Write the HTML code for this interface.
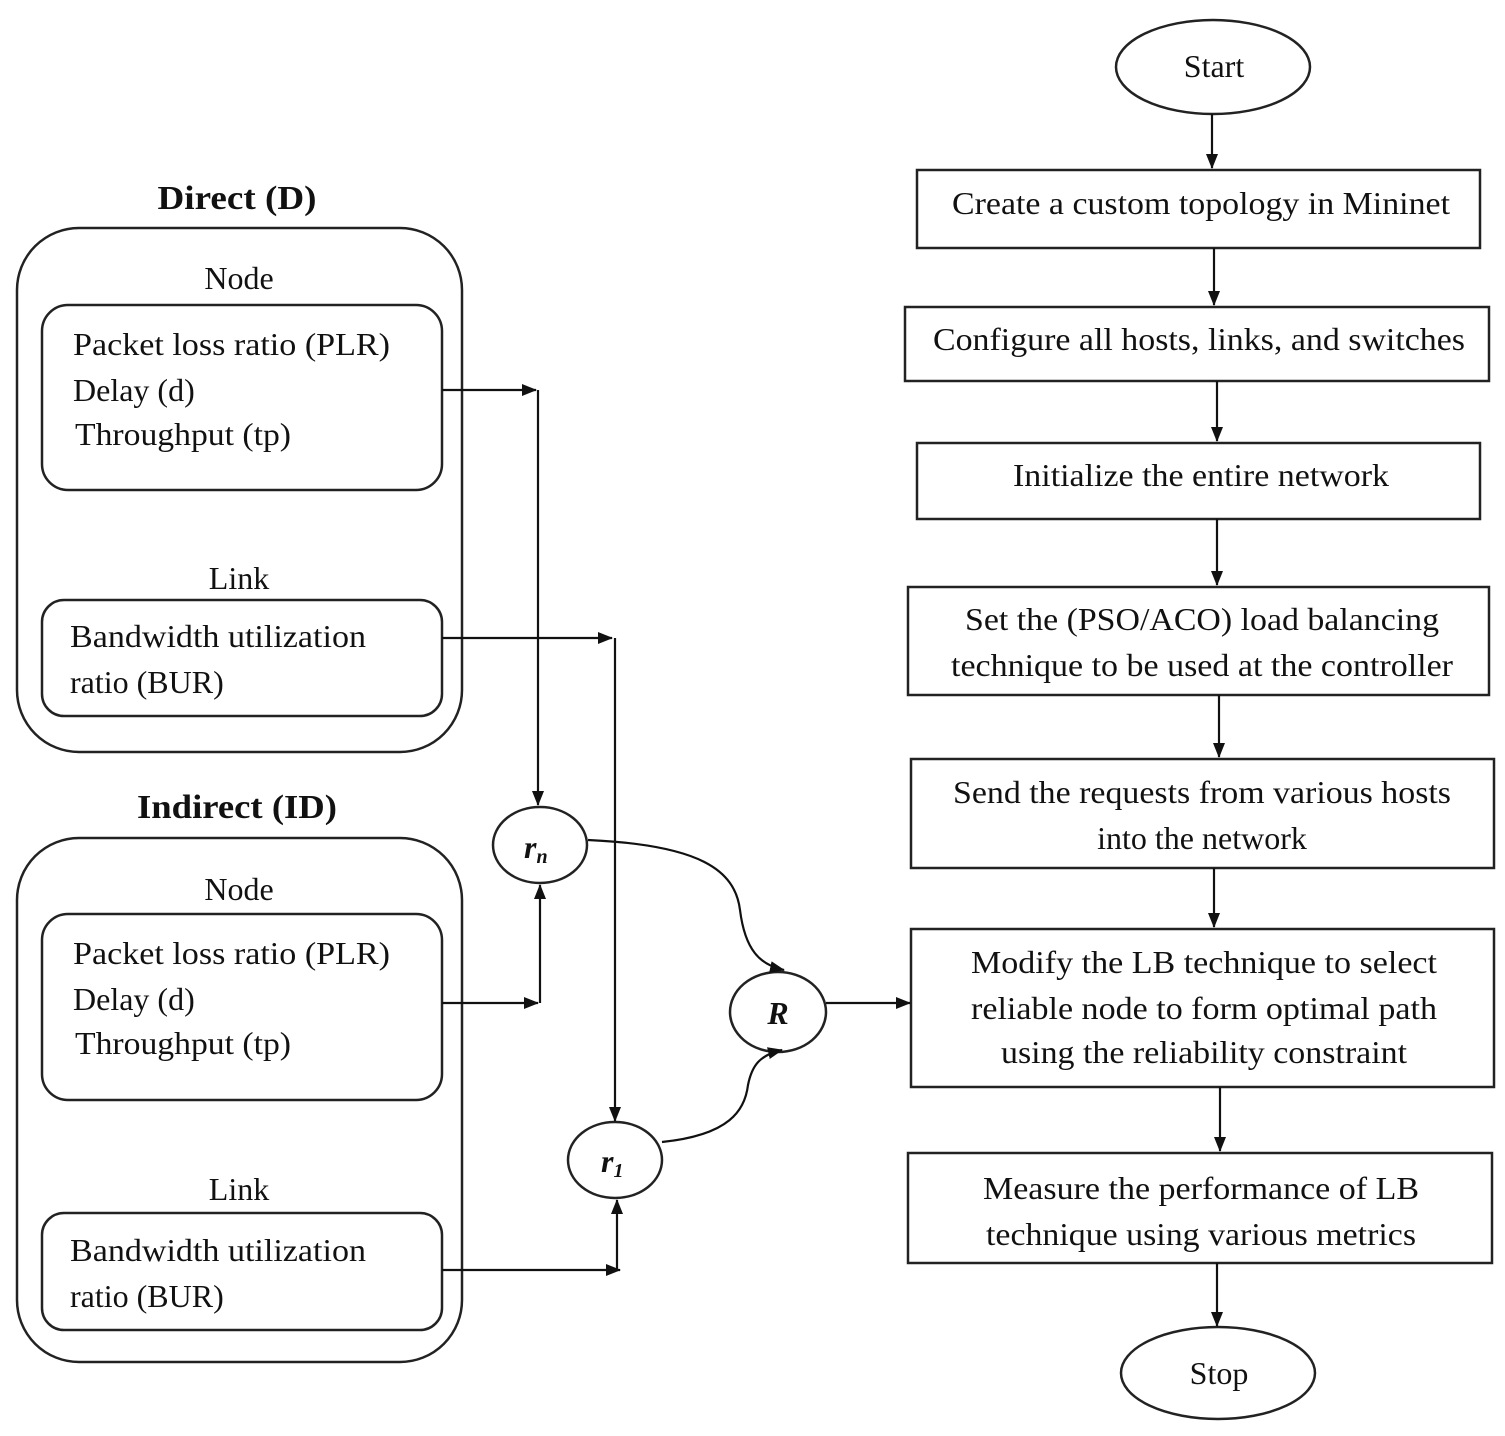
<!DOCTYPE html>
<html><head><meta charset="utf-8"><style>html,body{margin:0;padding:0;background:#fff}svg{display:block}</style></head>
<body>
<svg width="1505" height="1436" viewBox="0 0 1505 1436" xmlns="http://www.w3.org/2000/svg" font-family="Liberation Serif, serif" font-size="32" fill="#111">
<defs>
<marker id="a" markerWidth="15" markerHeight="12" refX="14" refY="6" orient="auto" markerUnits="userSpaceOnUse"><path d="M0,0 L15,6 L0,12 z" fill="#111"/></marker>
</defs>
<g fill="none" stroke="#222" stroke-width="2.5">
<rect x="17" y="228" width="445" height="524" rx="62"/>
<rect x="42" y="305" width="400" height="185" rx="26"/>
<rect x="42" y="600" width="400" height="116" rx="22"/>
<rect x="17" y="838" width="445" height="524" rx="62"/>
<rect x="42" y="914" width="400" height="186" rx="26"/>
<rect x="42" y="1213" width="400" height="117" rx="22"/>
<ellipse cx="540" cy="845" rx="47" ry="38"/>
<ellipse cx="615" cy="1160" rx="47" ry="38"/>
<ellipse cx="778" cy="1012" rx="48" ry="40"/>
<ellipse cx="1213" cy="67" rx="97" ry="47"/>
<ellipse cx="1218" cy="1373" rx="97" ry="46"/>
<rect x="917" y="170" width="563" height="78"/>
<rect x="905" y="307" width="584" height="74"/>
<rect x="917" y="443" width="563" height="76"/>
<rect x="908" y="587" width="581" height="108"/>
<rect x="911" y="759" width="583" height="109"/>
<rect x="911" y="929" width="583" height="158"/>
<rect x="908" y="1153" width="584" height="110"/>
</g>
<g fill="none" stroke="#111" stroke-width="2.2">
<path d="M442,390 H536" marker-end="url(#a)"/>
<path d="M538,390 V805" marker-end="url(#a)"/>
<path d="M442,638 H612" marker-end="url(#a)"/>
<path d="M615,638 V1121" marker-end="url(#a)"/>
<path d="M442,1003 H538" marker-end="url(#a)"/>
<path d="M540,1003 V885" marker-end="url(#a)"/>
<path d="M442,1270 H620" marker-end="url(#a)"/>
<path d="M617,1270 V1200" marker-end="url(#a)"/>
<path d="M588,840 C700,845 735,870 740,910 C745,950 760,965 784,970" marker-end="url(#a)"/>
<path d="M662,1142 C730,1135 745,1110 748,1085 C752,1065 760,1055 782,1050" marker-end="url(#a)"/>
<path d="M826,1003 H910" marker-end="url(#a)"/>
<path d="M1212,114 V168" marker-end="url(#a)"/>
<path d="M1214,248 V305" marker-end="url(#a)"/>
<path d="M1217,381 V441" marker-end="url(#a)"/>
<path d="M1217,519 V585" marker-end="url(#a)"/>
<path d="M1219,695 V757" marker-end="url(#a)"/>
<path d="M1214,868 V927" marker-end="url(#a)"/>
<path d="M1220,1087 V1151" marker-end="url(#a)"/>
<path d="M1217,1263 V1326" marker-end="url(#a)"/>
</g>
<g>
<text x="237" y="209" text-anchor="middle" font-weight="bold" font-size="34" textLength="159" lengthAdjust="spacingAndGlyphs">Direct (D)</text>
<text x="239" y="289" text-anchor="middle">Node</text>
<text x="73" y="355" textLength="317" lengthAdjust="spacingAndGlyphs">Packet loss ratio (PLR)</text>
<text x="73" y="401">Delay (d)</text>
<text x="75" y="445" textLength="216" lengthAdjust="spacingAndGlyphs">Throughput (tp)</text>
<text x="239" y="589" text-anchor="middle">Link</text>
<text x="70" y="647" textLength="296" lengthAdjust="spacingAndGlyphs">Bandwidth utilization</text>
<text x="70" y="693">ratio (BUR)</text>

<text x="237" y="818" text-anchor="middle" font-weight="bold" font-size="34" textLength="200" lengthAdjust="spacingAndGlyphs">Indirect (ID)</text>
<text x="239" y="900" text-anchor="middle">Node</text>
<text x="73" y="964" textLength="317" lengthAdjust="spacingAndGlyphs">Packet loss ratio (PLR)</text>
<text x="73" y="1010">Delay (d)</text>
<text x="75" y="1054" textLength="216" lengthAdjust="spacingAndGlyphs">Throughput (tp)</text>
<text x="239" y="1200" text-anchor="middle">Link</text>
<text x="70" y="1261" textLength="296" lengthAdjust="spacingAndGlyphs">Bandwidth utilization</text>
<text x="70" y="1307">ratio (BUR)</text>

<text x="524" y="858" font-weight="bold" font-style="italic">r<tspan font-size="20" dy="5">n</tspan></text>
<text x="601" y="1172" font-weight="bold" font-style="italic">r<tspan font-size="20" dy="5">1</tspan></text>
<text x="778" y="1024" text-anchor="middle" font-weight="bold" font-style="italic">R</text>

<text x="1214" y="77" text-anchor="middle">Start</text>
<text x="1201" y="214" text-anchor="middle" textLength="498" lengthAdjust="spacingAndGlyphs">Create a custom topology in Mininet</text>
<text x="1199" y="350" text-anchor="middle" textLength="532" lengthAdjust="spacingAndGlyphs">Configure all hosts, links, and switches</text>
<text x="1201" y="486" text-anchor="middle" textLength="376" lengthAdjust="spacingAndGlyphs">Initialize the entire network</text>
<text x="1202" y="630" text-anchor="middle" textLength="474" lengthAdjust="spacingAndGlyphs">Set the (PSO/ACO) load balancing</text>
<text x="1202" y="676" text-anchor="middle" textLength="502" lengthAdjust="spacingAndGlyphs">technique to be used at the controller</text>
<text x="1202" y="803" text-anchor="middle" textLength="498" lengthAdjust="spacingAndGlyphs">Send the requests from various hosts</text>
<text x="1202" y="849" text-anchor="middle">into the network</text>
<text x="1204" y="973" text-anchor="middle" textLength="466" lengthAdjust="spacingAndGlyphs">Modify the LB technique to select</text>
<text x="1204" y="1019" text-anchor="middle" textLength="466" lengthAdjust="spacingAndGlyphs">reliable node to form optimal path</text>
<text x="1204" y="1063" text-anchor="middle" textLength="406" lengthAdjust="spacingAndGlyphs">using the reliability constraint</text>
<text x="1201" y="1199" text-anchor="middle" textLength="436" lengthAdjust="spacingAndGlyphs">Measure the performance of LB</text>
<text x="1201" y="1245" text-anchor="middle" textLength="430" lengthAdjust="spacingAndGlyphs">technique using various metrics</text>
<text x="1219" y="1384" text-anchor="middle">Stop</text>
</g>
</svg>
</body></html>
